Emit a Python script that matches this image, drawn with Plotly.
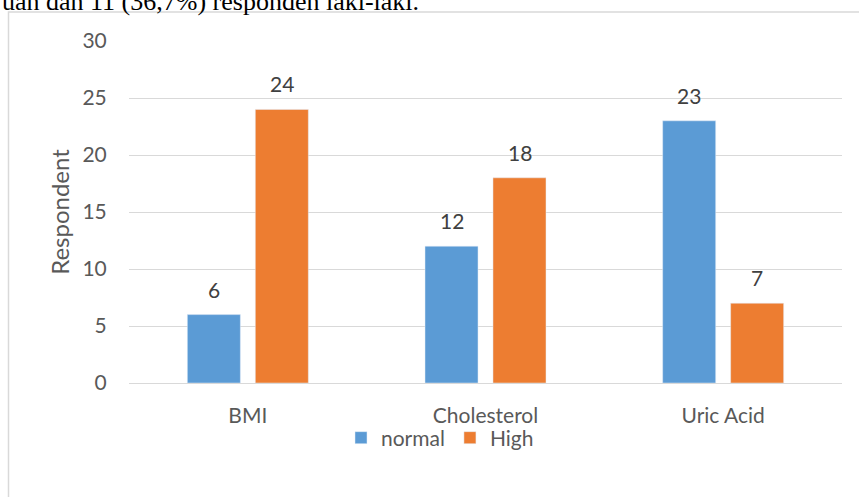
import plotly.graph_objects as go

categories = ["BMI", "Cholesterol", "Uric Acid"]
normal_vals = [6, 12, 23]
high_vals = [24, 18, 7]
y_ticks = [0, 5, 10, 15, 20, 25, 30]

W, H = 859, 497
L, R, T, B = 129, 17, 41, 114
pw, ph = W - L - R, H - T - B

font_family = "Lato, 'Open Sans', sans-serif"
grey = "#595959"

fig = go.Figure()
fig.add_trace(go.Bar(name="normal", x=categories, y=normal_vals, marker_color="#5B9BD5"))
fig.add_trace(go.Bar(name="High", x=categories, y=high_vals, marker_color="#ED7D31"))

annotations = []
for vals, shift in ((normal_vals, -34), (high_vals, 34)):
    for c, v in zip(categories, vals):
        annotations.append(dict(x=c, y=v, xref="x", yref="y", text=str(v), showarrow=False,
                                xshift=shift, yshift=11, yanchor="bottom",
                                font=dict(size=21, color="#404040", family=font_family)))

annotations.append(dict(x=(0 - L) / pw, y=1 + (T - 18.5) / ph, xref="paper", yref="paper",
                        text="uan dan 11 (36,7%) responden laki-laki.", showarrow=False,
                        xanchor="left", yanchor="bottom",
                        font=dict(size=26, color="#000000", family="'Liberation Serif', serif")))

fig.update_layout(
    width=W, height=H,
    margin=dict(l=L, r=R, t=T, b=B, autoexpand=False),
    paper_bgcolor="white", plot_bgcolor="white",
    barmode="group", bargap=0.428, bargroupgap=0.22,
    font=dict(family=font_family, color=grey, size=21),
    showlegend=True,
    legend=dict(orientation="h", x=(440 - L) / pw, xanchor="center",
                y=-(438 - 383) / ph, yanchor="middle", font=dict(size=21, color=grey),
                bgcolor="rgba(0,0,0,0)", traceorder="normal"),
    annotations=annotations,
    shapes=[dict(type="rect", xref="paper", yref="paper",
                 x0=(8.5 - L) / pw, x1=(W + 5 - L) / pw, y0=-(H + 5 - T - ph) / ph, y1=1 + (T - 12) / ph,
                 line=dict(color="#D9D9D9", width=1.5), fillcolor="rgba(0,0,0,0)", layer="below")],
)
fig.update_yaxes(range=[0, 30], tickvals=y_ticks, showgrid=True, gridcolor="#D9D9D9", gridwidth=1,
                 zeroline=False, showline=False, ticks="outside", ticklen=17,
                 tickcolor="rgba(0,0,0,0)", tickfont=dict(size=21, color=grey),
                 title=dict(text="Respondent", font=dict(size=24, color=grey), standoff=6))
fig.update_xaxes(showgrid=False, zeroline=False, showline=True, linecolor="#D9D9D9", linewidth=1,
                 ticks="outside", ticklen=14, tickcolor="rgba(0,0,0,0)",
                 tickfont=dict(size=21, color=grey))

fig.write_html("out.html", config={"displayModeBar": False},
               post_script="document.body.style.margin='0';document.body.style.overflow='hidden';")
